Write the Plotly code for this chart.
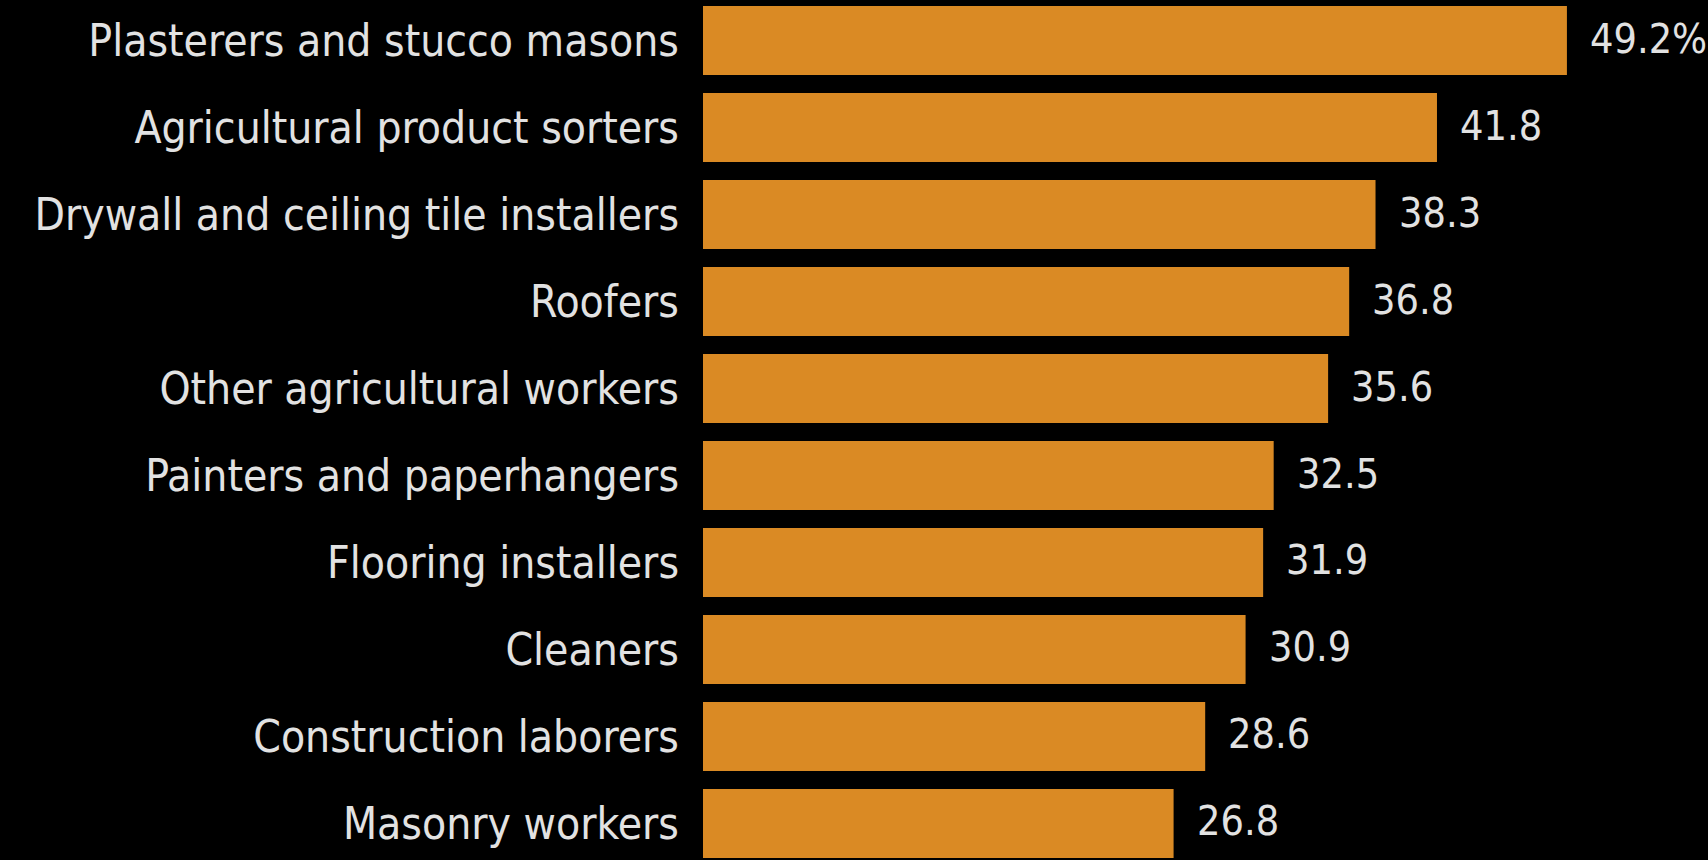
import plotly.graph_objects as go

categories = [
    "Plasterers and stucco masons",
    "Agricultural product sorters",
    "Drywall and ceiling tile installers",
    "Roofers",
    "Other agricultural workers",
    "Painters and paperhangers",
    "Flooring installers",
    "Cleaners",
    "Construction laborers",
    "Masonry workers",
]
values = [49.2, 41.8, 38.3, 36.8, 35.6, 32.5, 31.9, 30.9, 28.6, 26.8]
value_labels = ["49.2%", "41.8", "38.3", "36.8", "35.6", "32.5", "31.9", "30.9", "28.6", "26.8"]

FONT = "DejaVu Sans Condensed, DejaVu Sans, sans-serif"
TXT = "#e2e2e2"

fig = go.Figure(
    go.Bar(
        x=values,
        y=categories,
        orientation="h",
        marker=dict(color="#da8a24", line=dict(width=0)),
        hoverinfo="skip",
    )
)

for c, v, t in zip(categories, values, value_labels):
    fig.add_annotation(
        x=v, y=c, text=t, showarrow=False, xanchor="left", yanchor="middle",
        xshift=21, yshift=2, font=dict(family=FONT, size=41, color=TXT),
    )

fig.update_layout(
    width=1708, height=860,
    margin=dict(l=703, r=5, t=0, b=0),
    paper_bgcolor="black", plot_bgcolor="black",
    bargap=0.207,
    showlegend=False,
    xaxis=dict(range=[0, 56.95], visible=False, fixedrange=True),
    yaxis=dict(
        categoryorder="array", categoryarray=categories,
        range=[9.42, -0.466],
        showgrid=False, zeroline=False, showline=False, ticks="",
        ticklabelstandoff=23,
        tickfont=dict(family=FONT, size=44, color=TXT),
    ),
)

fig.write_html(
    "out.html",
    config={"displayModeBar": False},
    post_script="document.body.style.margin='0';document.body.style.background='black';",
)
